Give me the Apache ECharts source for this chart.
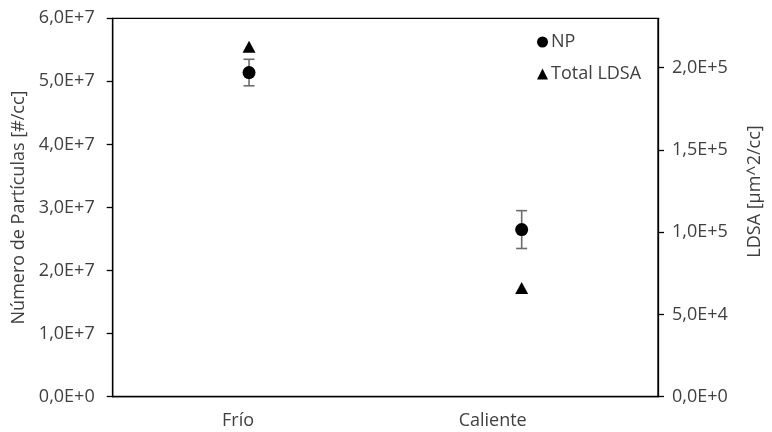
<!DOCTYPE html>
<html>
<head>
<meta charset="utf-8">
<script src="https://cdn.jsdelivr.net/npm/echarts@6/dist/echarts.min.js"></script>
<style>
  html, body { margin: 0; padding: 0; background: #fff; }
  #chart { width: 772px; height: 432px; }
</style>
</head>
<body>
<div id="chart"></div>
<script>
// Conditions on the category axis
const categories = ['Frío', 'Caliente'];
// Particle number (mean and error) on the left axis
const npMean = [5.14e7, 2.65e7];
const npErr = [0.21e7, 0.30e7];
// Total LDSA on the right axis
const ldsa = [2.127e5, 6.6e4];
// Tick values for each axis
const leftTicks = [0, 1e7, 2e7, 3e7, 4e7, 5e7, 6e7];
const rightTicks = [0, 5e4, 1e5, 1.5e5, 2e5];
const rightMax = 2.3e5;

const FONT = '"Open Sans", sans-serif';
const TXT = '#404040';
const FS = 18;

// "6,0E+7" style with a decimal comma
function sci(v) {
  if (v === 0) return '0,0E+0';
  const e = Math.floor(Math.log10(v) + 1e-9);
  const m = v / Math.pow(10, e);
  return m.toFixed(1).replace('.', ',') + 'E+' + e;
}

function valueAxis(opts, ticks, labelMargin) {
  return Object.assign({
    type: 'value',
    min: 0,
    splitLine: { show: false },
    axisLine: { show: true, onZero: false, lineStyle: { color: '#000', width: 1.3 } },
    axisTick: { show: true, length: 6, lineStyle: { color: '#000', width: 1.3 }, customValues: ticks },
    axisLabel: {
      fontFamily: FONT, fontSize: FS, color: TXT, formatter: sci,
      margin: labelMargin, customValues: ticks
    }
  }, opts);
}

const chart = echarts.init(document.getElementById('chart'), null, { renderer: 'canvas' });

chart.setOption({
  animation: false,
  backgroundColor: '#fff',
  grid: {
    left: 112.7, right: 103.7, top: 18.3, bottom: 35.3,
    show: true, borderColor: '#000', borderWidth: 1.3, backgroundColor: 'transparent'
  },
  legend: {
    orient: 'vertical',
    left: 532, top: 28,
    itemWidth: 11, itemHeight: 11, itemGap: 14,
    textStyle: { fontFamily: FONT, fontSize: FS, color: TXT, padding: [0, 0, 0, -2] },
    data: [
      { name: 'NP', icon: 'circle', itemStyle: { color: '#000', opacity: 1 } },
      { name: 'Total LDSA', icon: 'triangle', itemStyle: { color: '#000', opacity: 1 } }
    ]
  },
  xAxis: {
    type: 'category',
    data: categories,
    boundaryGap: true,
    axisLine: { lineStyle: { color: '#000', width: 1.3 } },
    axisTick: { show: false },
    axisLabel: {
      margin: 15,
      fontFamily: FONT, fontSize: FS, color: TXT,
      formatter: (v, i) => '{c' + i + '|' + v + '}',
      rich: {
        c0: { fontFamily: FONT, fontSize: FS, color: TXT, padding: [0, 22, 0, 0] },
        c1: { fontFamily: FONT, fontSize: FS, color: TXT, padding: [0, 58, 0, 0] }
      }
    }
  },
  yAxis: [
    valueAxis({
      position: 'left', max: leftTicks[leftTicks.length - 1], interval: leftTicks[1] - leftTicks[0],
      name: 'Número de Partículas [#/cc]',
      nameLocation: 'middle', nameGap: 78,
      nameTextStyle: { fontFamily: FONT, fontSize: FS, color: TXT }
    }, leftTicks, 18),
    valueAxis({
      position: 'right', max: rightMax, interval: rightTicks[1] - rightTicks[0],
      name: 'LDSA [µm^2/cc]',
      nameLocation: 'middle', nameGap: 88,
      nameTextStyle: { fontFamily: FONT, fontSize: FS, color: TXT, padding: [0, 0, 0, 32] }
    }, rightTicks, 14)
  ],
  series: [
    {
      name: 'NP error',
      type: 'custom',
      yAxisIndex: 0,
      z: 1,
      encode: { x: 0, y: 1 },
      data: categories.map((c, i) => [i, npMean[i], npErr[i]]),
      renderItem: function (params, api) {
        const i = api.value(0), m = api.value(1), e = api.value(2);
        const hi = api.coord([i, m + e]);
        const lo = api.coord([i, m - e]);
        const h = 5.5;
        const st = { stroke: '#6b6b6b', lineWidth: 1.6 };
        return {
          type: 'group',
          children: [
            { type: 'line', shape: { x1: hi[0], y1: hi[1], x2: lo[0], y2: lo[1] }, style: st },
            { type: 'line', shape: { x1: hi[0] - h, y1: hi[1], x2: hi[0] + h, y2: hi[1] }, style: st },
            { type: 'line', shape: { x1: lo[0] - h, y1: lo[1], x2: lo[0] + h, y2: lo[1] }, style: st }
          ]
        };
      }
    },
    {
      name: 'NP',
      type: 'scatter',
      yAxisIndex: 0,
      z: 3,
      symbol: 'circle',
      symbolSize: 13,
      itemStyle: { color: '#000', opacity: 1 },
      data: npMean
    },
    {
      name: 'Total LDSA',
      type: 'scatter',
      yAxisIndex: 1,
      z: 3,
      symbol: 'triangle',
      symbolSize: [13, 12],
      itemStyle: { color: '#000', opacity: 1 },
      data: ldsa
    }
  ]
});
</script>
</body>
</html>
